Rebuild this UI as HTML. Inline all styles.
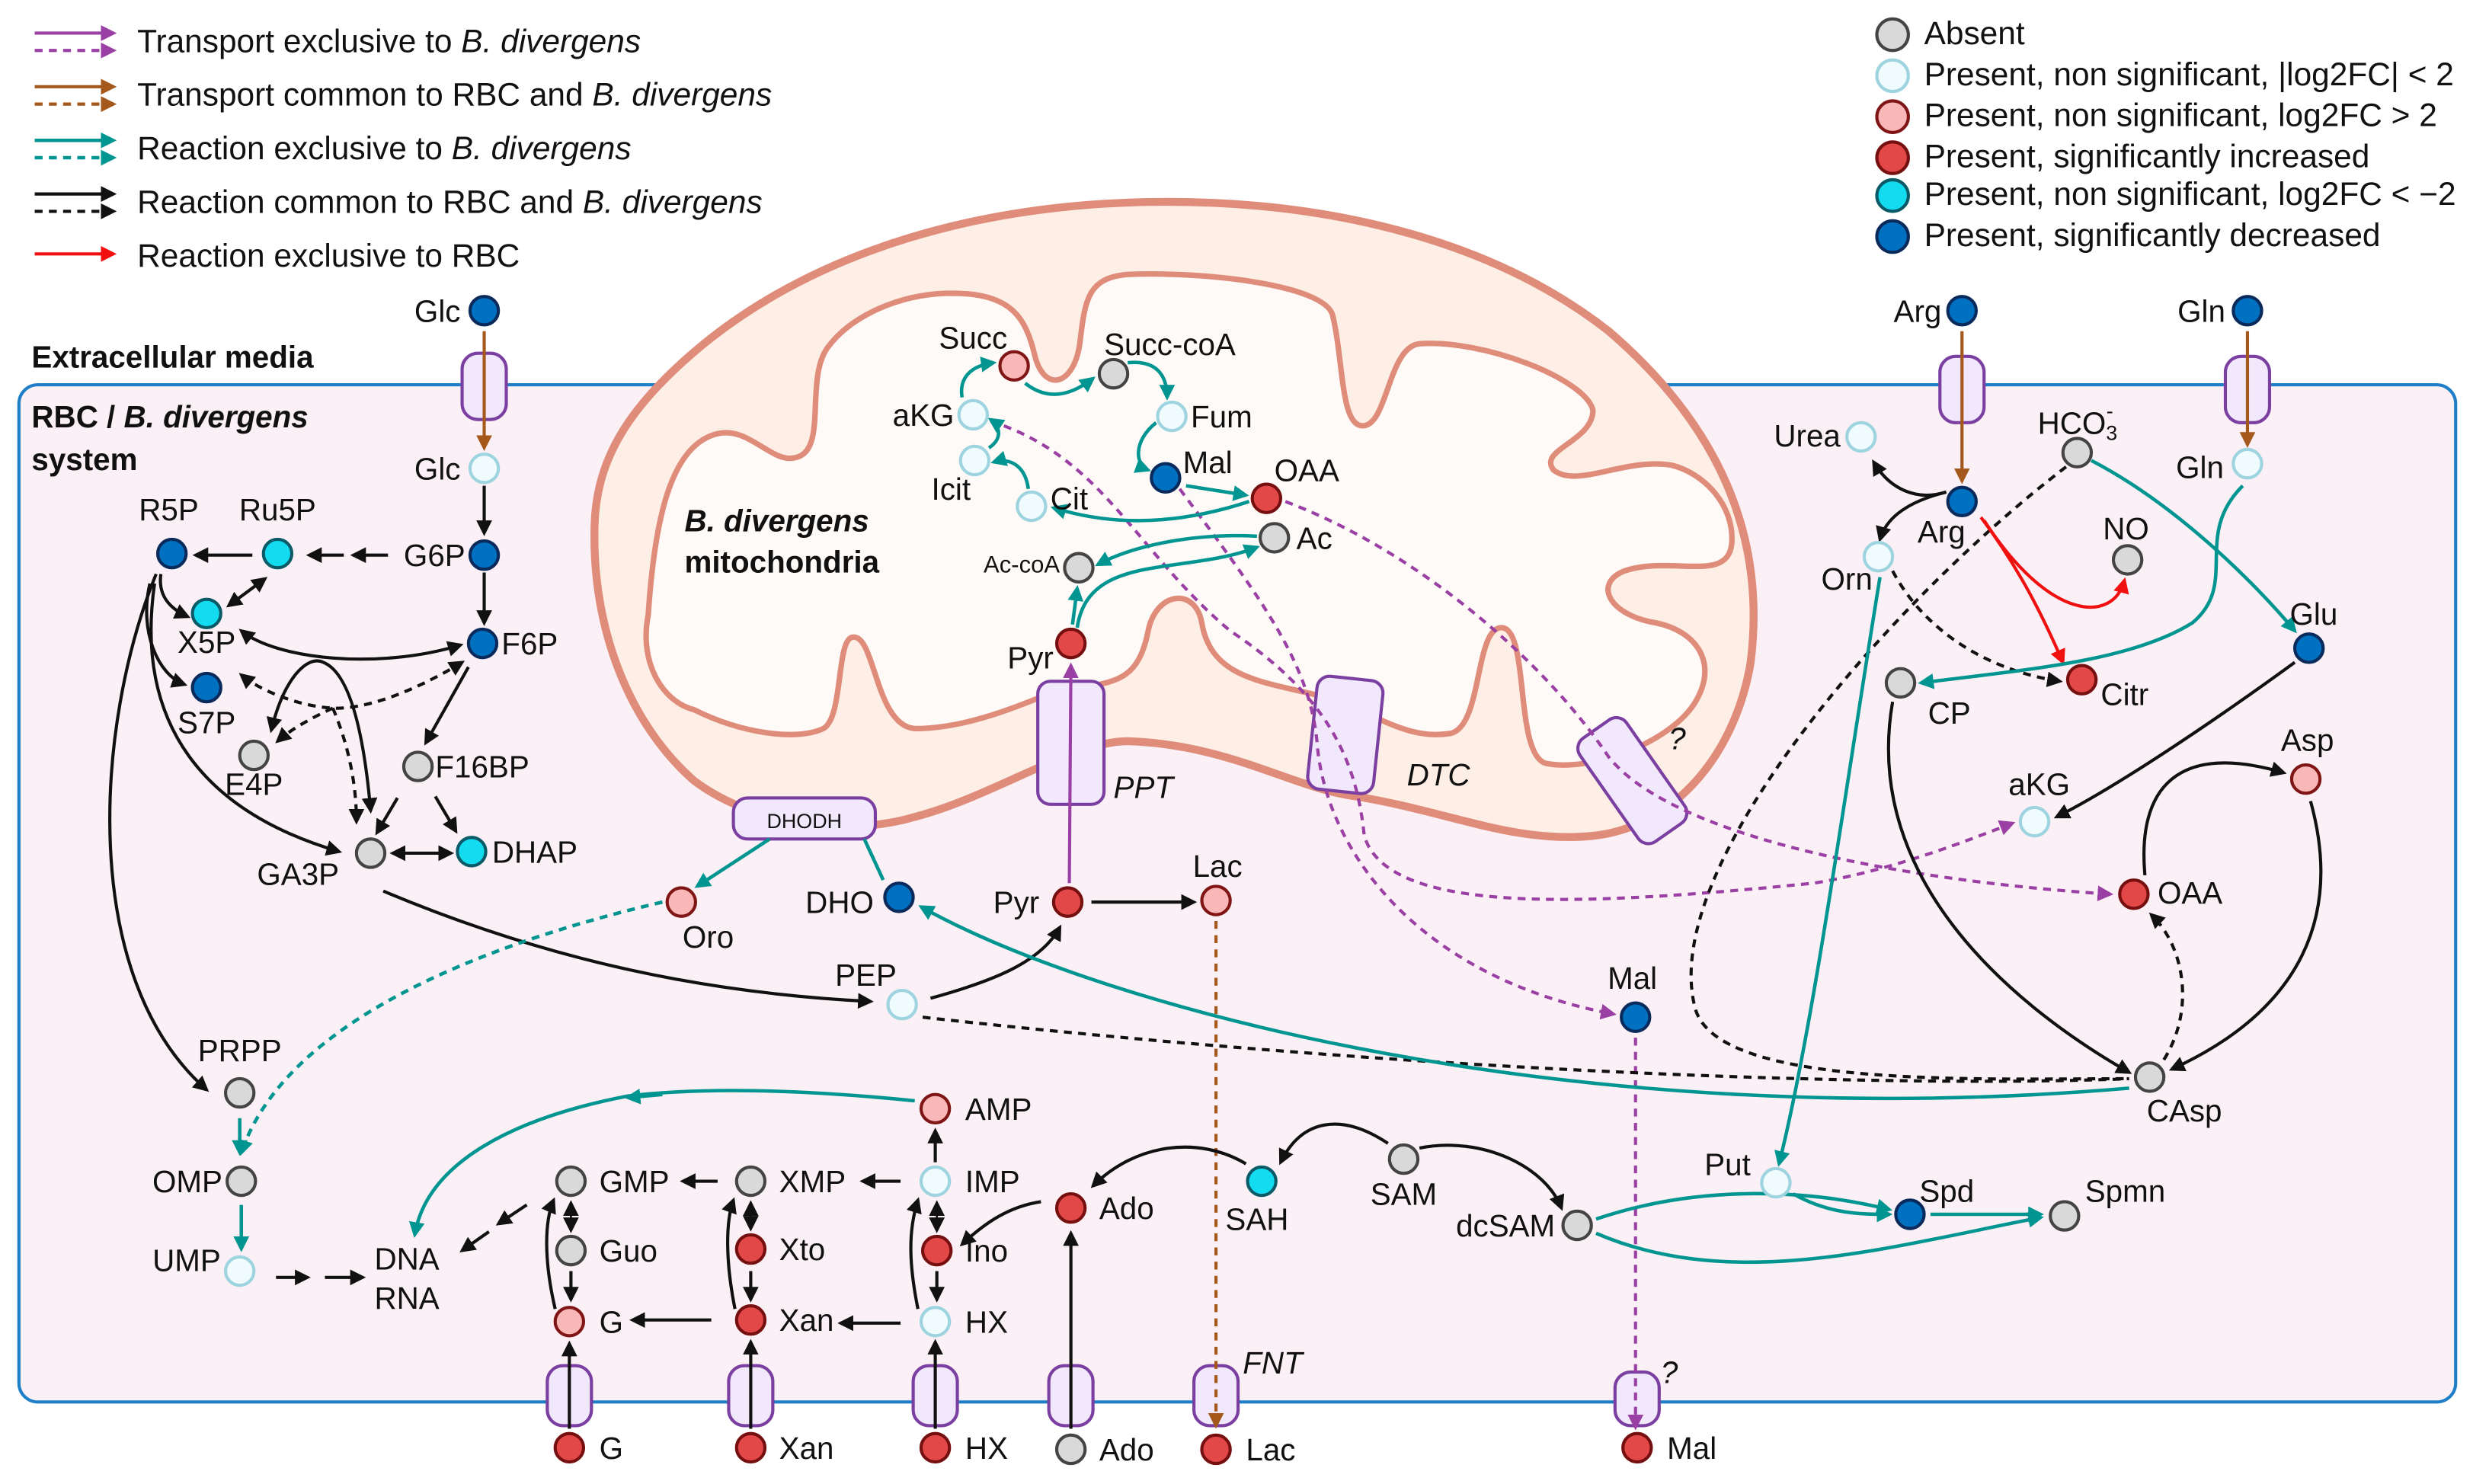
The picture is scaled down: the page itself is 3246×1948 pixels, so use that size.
<!DOCTYPE html>
<html><head><meta charset="utf-8"><style>
html,body{margin:0;padding:0;background:#fff;}
svg{display:block;}
text{font-family:"Liberation Sans",sans-serif;font-size:19.5px;fill:#111;}
.lg{font-size:20.5px;}
.i{font-style:italic;}
.b{font-weight:bold;}
.e{text-anchor:end;}
.c{text-anchor:middle;}
.k{stroke:#111;stroke-width:2;fill:none;}
.t{stroke:#009590;stroke-width:2.2;fill:none;}
.p{stroke:#9a3fa3;stroke-width:2;fill:none;}
.br{stroke:#a5581c;stroke-width:2;fill:none;}
.r{stroke:#f01010;stroke-width:2;fill:none;}
.d{stroke-dasharray:5,4;}
.n0{fill:#d9d9d9;stroke:#444;stroke-width:2;}
.n1{fill:#f0fbfd;stroke:#9ed4e0;stroke-width:2;}
.n2{fill:#f9b7b7;stroke:#801515;stroke-width:2;}
.n3{fill:#e24848;stroke:#760f0f;stroke-width:2;}
.n4{fill:#14dcf0;stroke:#0b5a68;stroke-width:2;}
.n5{fill:#0070c0;stroke:#0b2a5c;stroke-width:2;}
.tr{fill:#f1e8fb;stroke:#7a3fa0;stroke-width:2;}
</style></head><body>
<svg width="3246" height="1948" viewBox="0 0 1568 941" xmlns="http://www.w3.org/2000/svg">
<defs>
<marker id="ak" markerWidth="10" markerHeight="10" refX="8" refY="5" orient="auto-start-reverse" markerUnits="userSpaceOnUse"><path d="M0,0L10,5L0,10z" fill="#111"/></marker>
<marker id="at" markerWidth="10" markerHeight="10" refX="8" refY="5" orient="auto-start-reverse" markerUnits="userSpaceOnUse"><path d="M0,0L10,5L0,10z" fill="#009590"/></marker>
<marker id="ap" markerWidth="10" markerHeight="10" refX="8" refY="5" orient="auto-start-reverse" markerUnits="userSpaceOnUse"><path d="M0,0L10,5L0,10z" fill="#9a3fa3"/></marker>
<marker id="ab" markerWidth="10" markerHeight="10" refX="8" refY="5" orient="auto-start-reverse" markerUnits="userSpaceOnUse"><path d="M0,0L10,5L0,10z" fill="#a5581c"/></marker>
<marker id="ar" markerWidth="10" markerHeight="10" refX="8" refY="5" orient="auto-start-reverse" markerUnits="userSpaceOnUse"><path d="M0,0L10,5L0,10z" fill="#f01010"/></marker>
</defs>

<rect x="12" y="244" width="1545" height="645" rx="12" fill="#fbf0f5" stroke="#1e7fc8" stroke-width="2"/>

<path d="M377 333 C375 400,400 460,440 495 C480 525,540 530,580 518 C630 505,680 470,715 470 C780 472,820 500,860 505 C920 515,960 535,1010 530 C1060 525,1100 480,1110 420 C1120 340,1090 270,1020 210 C950 155,850 128,740 128 C620 128,520 160,450 215 C400 255,378 290,377 333Z" fill="#fdeee6" stroke="#df8c7a" stroke-width="5"/>
<path d="M411 390 C405 420,420 445,440 450 C470 465,505 470,522 462 C535 455,530 404,541 404 C555 403,555 460,580 462 C610 462,640 450,660 442 C700 430,720 440,728 400 C733 375,758 372,762 395 C768 430,800 432,836 441 C870 450,890 470,920 465 C940 460,935 398,952 398 C970 398,960 478,980 484 C1010 490,1060 470,1075 445 C1090 420,1075 400,1050 395 C1020 390,1010 370,1030 362 C1060 352,1095 370,1098 345 C1100 320,1080 300,1060 295 C1030 290,1000 310,985 298 C975 285,1010 280,1010 260 C1005 240,940 215,900 218 C880 220,880 270,864 270 C850 270,852 230,845 200 C840 180,760 172,715 174 C690 176,688 190,685 215 C682 245,662 250,656 225 C650 200,640 185,600 186 C570 187,540 200,525 220 C510 240,525 285,505 290 C490 295,475 270,455 275 C425 282,415 330,411 390Z" fill="#fefaf8" stroke="#df8c7a" stroke-width="3.5"/>

<line x1="22" y1="21" x2="72" y2="21" class="p" marker-end="url(#ap)"/>
<line x1="22" y1="32" x2="72" y2="32" class="p d" marker-end="url(#ap)"/>
<text x="87" y="33" class="lg">Transport exclusive to <tspan class="i">B. divergens</tspan></text>
<line x1="22" y1="55" x2="72" y2="55" class="br" marker-end="url(#ab)"/>
<line x1="22" y1="66" x2="72" y2="66" class="br d" marker-end="url(#ab)"/>
<text x="87" y="67" class="lg">Transport common to RBC and <tspan class="i">B. divergens</tspan></text>
<line x1="22" y1="89" x2="72" y2="89" class="t" marker-end="url(#at)"/>
<line x1="22" y1="100" x2="72" y2="100" class="t d" marker-end="url(#at)"/>
<text x="87" y="101" class="lg">Reaction exclusive to <tspan class="i">B. divergens</tspan></text>
<line x1="22" y1="123" x2="72" y2="123" class="k" marker-end="url(#ak)"/>
<line x1="22" y1="134" x2="72" y2="134" class="k d" marker-end="url(#ak)"/>
<text x="87" y="135" class="lg">Reaction common to RBC and <tspan class="i">B. divergens</tspan></text>
<line x1="22" y1="161" x2="72" y2="161" class="r" marker-end="url(#ar)"/>
<text x="87" y="169" class="lg">Reaction exclusive to RBC</text>

<circle cx="1200" cy="22" r="10" class="n0"/><text x="1220" y="28" class="lg">Absent</text>
<circle cx="1200" cy="48" r="10" class="n1"/><text x="1220" y="54" class="lg">Present, non significant, |log2FC| &lt; 2</text>
<circle cx="1200" cy="74" r="10" class="n2"/><text x="1220" y="80" class="lg">Present, non significant, log2FC &gt; 2</text>
<circle cx="1200" cy="100" r="10" class="n3"/><text x="1220" y="106" class="lg">Present, significantly increased</text>
<circle cx="1200" cy="124" r="10" class="n4"/><text x="1220" y="130" class="lg">Present, non significant, log2FC &lt; −2</text>
<circle cx="1200" cy="150" r="10" class="n5"/><text x="1220" y="156" class="lg">Present, significantly decreased</text>

<text x="20" y="233" class="b">Extracellular media</text>
<text x="20" y="271" class="b">RBC / <tspan class="i">B. divergens</tspan></text>
<text x="20" y="298" class="b">system</text>
<text x="434" y="337" class="b i">B. divergens</text>
<text x="434" y="363" class="b">mitochondria</text>

<rect x="293" y="224" width="28" height="42" rx="10" class="tr"/>
<rect x="1230" y="226" width="28" height="42" rx="10" class="tr"/>
<rect x="1411" y="226" width="28" height="42" rx="10" class="tr"/>
<rect x="347" y="866" width="28" height="38" rx="10" class="tr"/>
<rect x="462" y="866" width="28" height="38" rx="10" class="tr"/>
<rect x="579" y="866" width="28" height="38" rx="10" class="tr"/>
<rect x="665" y="866" width="28" height="38" rx="10" class="tr"/>
<rect x="757" y="866" width="28" height="38" rx="10" class="tr"/>
<rect x="1024" y="870" width="28" height="34" rx="10" class="tr"/>
<rect x="658" y="432" width="42" height="78" rx="8" class="tr"/>
<text x="706" y="506" class="i">PPT</text>
<rect x="832" y="430" width="42" height="72" rx="8" class="tr" transform="rotate(6 853 466)"/>
<text x="892" y="498" class="i">DTC</text>
<rect x="1017" y="455" width="36" height="80" rx="8" class="tr" transform="rotate(-35 1035 495)"/>
<text x="1058" y="475" class="i">?</text>
<rect x="465" y="506" width="90" height="26" rx="9" class="tr"/>
<text x="510" y="525" class="c" style="font-size:13px">DHODH</text>
<text x="788" y="871" class="i">FNT</text>
<text x="1053" y="877" class="i">?</text>

<line x1="307" y1="210" x2="307" y2="284" class="br" marker-end="url(#ab)"/>
<line x1="1244" y1="210" x2="1244" y2="305" class="br" marker-end="url(#ab)"/>
<line x1="1425" y1="210" x2="1425" y2="282" class="br" marker-end="url(#ab)"/>
<line x1="771" y1="584" x2="771" y2="904" class="br d" marker-end="url(#ab)"/>

<line x1="678" y1="560" x2="679" y2="422" class="p" marker-end="url(#ap)"/>
<path d="M628 267 C700 290,720 350,780 400 C840 440,860 480,865 530 C880 580,1000 575,1150 560 C1200 552,1250 532,1276 522" class="p d" marker-end="url(#ap)"/>
<path d="M815 318 C900 350,980 420,1020 480 C1060 530,1200 558,1338 567" class="p d" marker-end="url(#ap)"/>
<path d="M748 310 C800 380,830 420,835 470 C840 540,900 620,1023 643" class="p d" marker-end="url(#ap)"/>
<line x1="1037" y1="658" x2="1037" y2="905" class="p d" marker-end="url(#ap)"/>

<line x1="307" y1="308" x2="307" y2="338" class="k" marker-end="url(#ak)"/>
<line x1="246" y1="352" x2="224" y2="352" class="k" marker-end="url(#ak)"/>
<line x1="218" y1="352" x2="196" y2="352" class="k" marker-end="url(#ak)"/>
<line x1="160" y1="352" x2="124" y2="352" class="k" marker-end="url(#ak)"/>
<line x1="307" y1="363" x2="307" y2="395" class="k" marker-end="url(#ak)"/>
<line x1="168" y1="367" x2="145" y2="384" class="k" marker-start="url(#ak)" marker-end="url(#ak)"/>
<path d="M102 364 C100 378,108 386,119 391" class="k" marker-end="url(#ak)"/>
<path d="M95 370 C88 400,100 428,117 434" class="k" marker-end="url(#ak)"/>
<path d="M153 400 C175 418,240 425,292 409" class="k" marker-start="url(#ak)" marker-end="url(#ak)"/>
<path d="M297 423 L270 471" class="k" marker-end="url(#ak)"/>
<line x1="252" y1="506" x2="239" y2="528" class="k" marker-end="url(#ak)"/>
<line x1="276" y1="505" x2="289" y2="527" class="k" marker-end="url(#ak)"/>
<line x1="249" y1="541" x2="286" y2="541" class="k" marker-start="url(#ak)" marker-end="url(#ak)"/>
<path d="M293 420 C260 440,230 450,211 449 C190 448,165 438,153 428" class="k d" marker-start="url(#ak)" marker-end="url(#ak)"/>
<path d="M211 449 C198 455,185 462,176 470" class="k d" marker-end="url(#ak)"/>
<path d="M211 449 C220 470,226 495,226 521" class="k d" marker-end="url(#ak)"/>
<path d="M172 463 C180 430,195 415,205 420 C225 428,232 480,235 514" class="k" marker-start="url(#ak)" marker-end="url(#ak)"/>
<path d="M98 370 C85 460,130 515,215 540" class="k" marker-end="url(#ak)"/>
<path d="M99 364 C60 460,50 620,131 691" class="k" marker-end="url(#ak)"/>
<path d="M243 565 C350 610,450 630,552 635" class="k" marker-end="url(#ak)"/>
<path d="M590 633 C630 622,660 610,672 588" class="k" marker-end="url(#ak)"/>
<line x1="692" y1="572" x2="757" y2="572" class="k" marker-end="url(#ak)"/>
<line x1="175" y1="810" x2="195" y2="810" class="k" marker-end="url(#ak)"/>
<line x1="206" y1="810" x2="230" y2="810" class="k" marker-end="url(#ak)"/>
<line x1="334" y1="764" x2="316" y2="776" class="k" marker-end="url(#ak)"/>
<line x1="310" y1="781" x2="293" y2="793" class="k" marker-end="url(#ak)"/>
<line x1="455" y1="749" x2="433" y2="749" class="k" marker-end="url(#ak)"/>
<line x1="571" y1="749" x2="547" y2="749" class="k" marker-end="url(#ak)"/>
<line x1="593" y1="737" x2="593" y2="717" class="k" marker-end="url(#ak)"/>
<line x1="451" y1="837" x2="401" y2="837" class="k" marker-end="url(#ak)"/>
<line x1="571" y1="839" x2="533" y2="839" class="k" marker-end="url(#ak)"/>
<line x1="362" y1="763" x2="362" y2="780" class="k" style="stroke-width:1.3" marker-start="url(#ak)" marker-end="url(#ak)"/>
<line x1="362" y1="806" x2="362" y2="824" class="k" marker-end="url(#ak)"/>
<path d="M352 830 C345 800,345 775,351 761" class="k" marker-end="url(#ak)"/>
<line x1="476" y1="763" x2="476" y2="779" class="k" style="stroke-width:1.3" marker-start="url(#ak)" marker-end="url(#ak)"/>
<line x1="476" y1="806" x2="476" y2="824" class="k" marker-end="url(#ak)"/>
<path d="M466 830 C460 800,460 775,465 761" class="k" marker-end="url(#ak)"/>
<line x1="594" y1="763" x2="594" y2="780" class="k" style="stroke-width:1.3" marker-start="url(#ak)" marker-end="url(#ak)"/>
<line x1="594" y1="806" x2="594" y2="824" class="k" marker-end="url(#ak)"/>
<path d="M582 830 C576 800,576 780,582 761" class="k" marker-end="url(#ak)"/>
<path d="M660 762 C640 765,625 775,610 789" class="k" marker-end="url(#ak)"/>
<path d="M790 738 C760 720,720 725,693 752" class="k" marker-end="url(#ak)"/>
<path d="M880 725 C850 705,825 710,812 737" class="k" marker-end="url(#ak)"/>
<path d="M900 728 C940 720,980 740,990 766" class="k" marker-end="url(#ak)"/>
<line x1="361" y1="906" x2="361" y2="852" class="k" marker-end="url(#ak)"/>
<line x1="476" y1="906" x2="476" y2="851" class="k" marker-end="url(#ak)"/>
<line x1="593" y1="906" x2="593" y2="851" class="k" marker-end="url(#ak)"/>
<line x1="679" y1="906" x2="679" y2="782" class="k" marker-end="url(#ak)"/>
<path d="M1234 312 C1215 318,1198 310,1188 293" class="k" marker-end="url(#ak)"/>
<path d="M1234 312 C1210 318,1196 328,1192 342" class="k" marker-end="url(#ak)"/>
<path d="M1455 420 C1400 460,1340 500,1304 518" class="k" marker-end="url(#ak)"/>
<path d="M1360 555 C1355 500,1380 470,1448 490" class="k" marker-end="url(#ak)"/>
<path d="M1465 508 C1485 580,1460 640,1377 678" class="k" marker-end="url(#ak)"/>
<path d="M1200 445 C1180 560,1280 640,1350 680" class="k" marker-end="url(#ak)"/>
<path d="M1200 362 C1220 400,1260 425,1306 432" class="k d" marker-end="url(#ak)"/>
<path d="M1310 296 C1200 380,1050 550,1075 640 C1090 690,1250 684,1350 684" class="k d"/>
<path d="M585 645 C900 680,1200 690,1350 684" class="k d"/>
<path d="M1372 672 C1392 640,1385 600,1364 580" class="k d" marker-end="url(#ak)"/>

<path d="M1256 328 C1280 360,1295 390,1308 420" class="r" marker-end="url(#ar)"/>
<path d="M1258 330 C1300 395,1340 395,1347 368" class="r" marker-end="url(#ar)"/>

<line x1="488" y1="532" x2="442" y2="562" class="t" marker-end="url(#at)"/>
<line x1="560" y1="558" x2="548" y2="532" class="t"/>
<path d="M1350 690 C1000 720,700 640,584 575" class="t" marker-end="url(#at)"/>
<path d="M420 572 C300 600,180 650,153 731" class="t d" marker-end="url(#at)"/>
<line x1="152" y1="709" x2="152" y2="731" class="t" marker-end="url(#at)"/>
<line x1="153" y1="764" x2="153" y2="792" class="t" marker-end="url(#at)"/>
<path d="M580 698 C500 690,440 690,398 695 C320 710,270 740,263 783" class="t" marker-end="url(#at)"/>
<line x1="420" y1="694" x2="398" y2="696" class="t" marker-end="url(#at)"/>
<path d="M1326 292 C1380 320,1430 370,1455 400" class="t" marker-end="url(#at)"/>
<path d="M1422 308 C1390 340,1420 370,1390 395 C1350 420,1280 425,1218 433" class="t" marker-end="url(#at)"/>
<path d="M1192 366 C1170 500,1150 650,1128 738" class="t" marker-end="url(#at)"/>
<path d="M1137 757 C1160 770,1180 770,1198 770" class="t" marker-end="url(#at)"/>
<path d="M1012 773 C1080 750,1150 755,1198 767" class="t" marker-end="url(#at)"/>
<path d="M1012 782 C1100 820,1200 790,1294 772" class="t" marker-end="url(#at)"/>
<line x1="1224" y1="770" x2="1294" y2="770" class="t" marker-end="url(#at)"/>
<line x1="680" y1="396" x2="683" y2="373" class="t" marker-end="url(#at)"/>
<path d="M683 398 C690 350,750 365,797 347" class="t" marker-end="url(#at)"/>
<path d="M797 340 C760 338,720 345,696 358" class="t" marker-end="url(#at)"/>
<path d="M792 318 C740 335,700 332,668 322" class="t" marker-end="url(#at)"/>
<path d="M652 310 C650 295,640 290,630 293" class="t" marker-end="url(#at)"/>
<path d="M627 284 C636 278,634 270,628 266" class="t" marker-end="url(#at)"/>
<path d="M610 252 C608 240,615 232,630 230" class="t" marker-end="url(#at)"/>
<path d="M650 243 C665 255,680 250,693 240" class="t" marker-end="url(#at)"/>
<path d="M715 230 C735 228,740 240,740 252" class="t" marker-end="url(#at)"/>
<path d="M733 268 C718 280,720 295,728 298" class="t" marker-end="url(#at)"/>
<line x1="752" y1="308" x2="790" y2="314" class="t" marker-end="url(#at)"/>

<g>
<circle cx="307" cy="197" r="9" class="n5"/><text x="292" y="204" class="e">Glc</text>
<circle cx="307" cy="297" r="9" class="n1"/><text x="292" y="304" class="e">Glc</text>
<circle cx="307" cy="352" r="9" class="n5"/><text x="295" y="359" class="e">G6P</text>
<circle cx="306" cy="408" r="9" class="n5"/><text x="318" y="415">F6P</text>
<circle cx="265" cy="486" r="9" class="n0"/><text x="276" y="493">F16BP</text>
<circle cx="299" cy="540" r="9" class="n4"/><text x="312" y="547">DHAP</text>
<circle cx="235" cy="541" r="9" class="n0"/><text x="215" y="561" class="e">GA3P</text>
<circle cx="161" cy="479" r="9" class="n0"/><text x="161" y="504" class="c">E4P</text>
<circle cx="131" cy="436" r="9" class="n5"/><text x="131" y="465" class="c">S7P</text>
<circle cx="131" cy="389" r="9" class="n4"/><text x="131" y="414" class="c">X5P</text>
<circle cx="109" cy="351" r="9" class="n5"/><text x="107" y="330" class="c">R5P</text>
<circle cx="176" cy="351" r="9" class="n4"/><text x="176" y="330" class="c">Ru5P</text>
<circle cx="152" cy="693" r="9" class="n0"/><text x="152" y="673" class="c">PRPP</text>
<circle cx="153" cy="749" r="9" class="n0"/><text x="141" y="756" class="e">OMP</text>
<circle cx="152" cy="806" r="9" class="n1"/><text x="140" y="806" class="e">UMP</text>
<text x="258" y="805" class="c">DNA</text><text x="258" y="830" class="c">RNA</text>
<circle cx="432" cy="572" r="9" class="n2"/><text x="449" y="601" class="c">Oro</text>
<circle cx="570" cy="569" r="9" class="n5"/><text x="554" y="579" class="e">DHO</text>
<circle cx="679" cy="408" r="9" class="n3"/><text x="668" y="424" class="e">Pyr</text>
<circle cx="677" cy="572" r="9" class="n3"/><text x="659" y="579" class="e">Pyr</text>
<circle cx="771" cy="571" r="9" class="n2"/><text x="772" y="556" class="c">Lac</text>
<circle cx="572" cy="637" r="9" class="n1"/><text x="549" y="625" class="c">PEP</text>
<circle cx="1037" cy="645" r="9" class="n5"/><text x="1035" y="627" class="c">Mal</text>
<circle cx="684" cy="360" r="9" class="n0"/><text x="672" y="363" class="e" style="font-size:15px">Ac-coA</text>
<circle cx="808" cy="341" r="9" class="n0"/><text x="822" y="348">Ac</text>
<circle cx="654" cy="321" r="9" class="n1"/><text x="666" y="323">Cit</text>
<circle cx="618" cy="292" r="9" class="n1"/><text x="603" y="317" class="c">Icit</text>
<circle cx="617" cy="263" r="9" class="n1"/><text x="605" y="270" class="e">aKG</text>
<circle cx="643" cy="232" r="9" class="n2"/><text x="617" y="221" class="c">Succ</text>
<circle cx="706" cy="237" r="9" class="n0"/><text x="700" y="225">Succ-coA</text>
<circle cx="743" cy="264" r="9" class="n1"/><text x="755" y="271">Fum</text>
<circle cx="739" cy="303" r="9" class="n5"/><text x="750" y="300">Mal</text>
<circle cx="803" cy="316" r="9" class="n3"/><text x="808" y="305">OAA</text>
<circle cx="1244" cy="197" r="9" class="n5"/><text x="1231" y="204" class="e">Arg</text>
<circle cx="1425" cy="197" r="9" class="n5"/><text x="1411" y="204" class="e">Gln</text>
<circle cx="1180" cy="277" r="9" class="n1"/><text x="1167" y="283" class="e">Urea</text>
<circle cx="1317" cy="287" r="9" class="n0"/><text x="1292" y="275">HCO<tspan style="font-size:13px" dy="4">3</tspan><tspan style="font-size:13px" dx="-7" dy="-14">-</tspan></text>
<circle cx="1425" cy="294" r="9" class="n1"/><text x="1410" y="303" class="e">Gln</text>
<circle cx="1244" cy="318" r="9" class="n5"/><text x="1231" y="344" class="c">Arg</text>
<circle cx="1191" cy="353" r="9" class="n1"/><text x="1171" y="374" class="c">Orn</text>
<circle cx="1349" cy="355" r="9" class="n0"/><text x="1348" y="342" class="c">NO</text>
<circle cx="1464" cy="411" r="9" class="n5"/><text x="1467" y="396" class="c">Glu</text>
<circle cx="1205" cy="433" r="9" class="n0"/><text x="1236" y="459" class="c">CP</text>
<circle cx="1320" cy="431" r="9" class="n3"/><text x="1332" y="447">Citr</text>
<circle cx="1462" cy="494" r="9" class="n2"/><text x="1463" y="476" class="c">Asp</text>
<circle cx="1290" cy="521" r="9" class="n1"/><text x="1293" y="504" class="c">aKG</text>
<circle cx="1353" cy="567" r="9" class="n3"/><text x="1368" y="573">OAA</text>
<circle cx="1363" cy="683" r="9" class="n0"/><text x="1385" y="711" class="c">CAsp</text>
<circle cx="593" cy="703" r="9" class="n2"/><text x="612" y="710">AMP</text>
<circle cx="593" cy="749" r="9" class="n1"/><text x="612" y="756">IMP</text>
<circle cx="594" cy="793" r="9" class="n3"/><text x="612" y="800">Ino</text>
<circle cx="593" cy="838" r="9" class="n1"/><text x="612" y="845">HX</text>
<circle cx="476" cy="792" r="9" class="n3"/><text x="494" y="799">Xto</text>
<circle cx="476" cy="749" r="9" class="n0"/><text x="494" y="756">XMP</text>
<circle cx="476" cy="837" r="9" class="n3"/><text x="494" y="844">Xan</text>
<circle cx="362" cy="749" r="9" class="n0"/><text x="380" y="756">GMP</text>
<circle cx="362" cy="793" r="9" class="n0"/><text x="380" y="800">Guo</text>
<circle cx="361" cy="838" r="9" class="n2"/><text x="380" y="845">G</text>
<circle cx="679" cy="766" r="9" class="n3"/><text x="697" y="773">Ado</text>
<circle cx="800" cy="749" r="9" class="n4"/><text x="797" y="780" class="c">SAH</text>
<circle cx="890" cy="735" r="9" class="n0"/><text x="890" y="764" class="c">SAM</text>
<circle cx="1000" cy="777" r="9" class="n0"/><text x="986" y="784" class="e">dcSAM</text>
<circle cx="1126" cy="750" r="9" class="n1"/><text x="1110" y="745" class="e">Put</text>
<circle cx="1211" cy="770" r="9" class="n5"/><text x="1217" y="762">Spd</text>
<circle cx="1309" cy="771" r="9" class="n0"/><text x="1322" y="762">Spmn</text>
<circle cx="361" cy="918" r="9" class="n3"/><text x="380" y="925">G</text>
<circle cx="476" cy="918" r="9" class="n3"/><text x="494" y="925">Xan</text>
<circle cx="593" cy="918" r="9" class="n3"/><text x="612" y="925">HX</text>
<circle cx="679" cy="919" r="9" class="n0"/><text x="697" y="926">Ado</text>
<circle cx="771" cy="919" r="9" class="n3"/><text x="790" y="926">Lac</text>
<circle cx="1038" cy="918" r="9" class="n3"/><text x="1057" y="925">Mal</text>
</g>
</svg>
</body></html>
